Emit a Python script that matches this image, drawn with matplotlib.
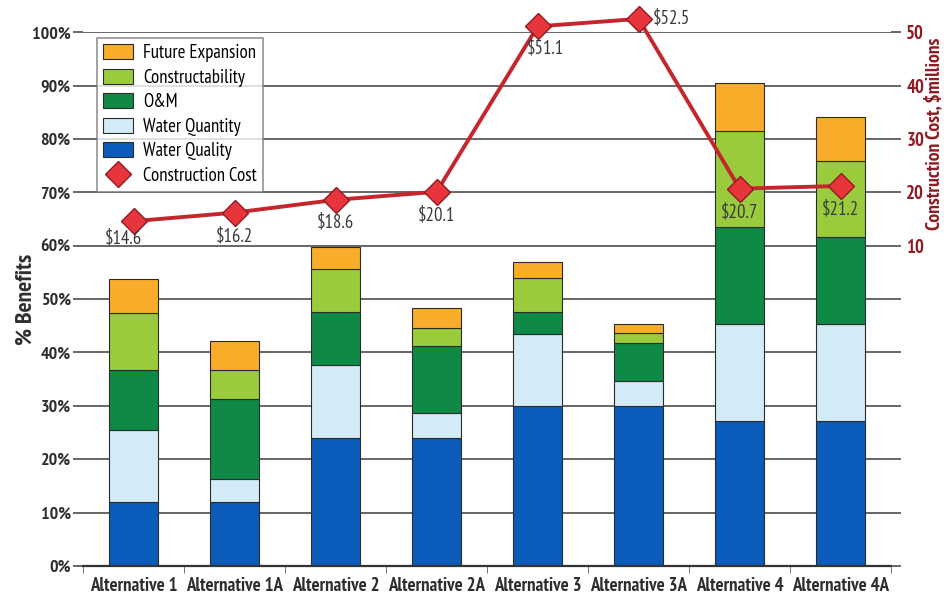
import matplotlib
matplotlib.use("Agg")
import matplotlib.pyplot as plt
from matplotlib.patches import Patch
from matplotlib.lines import Line2D
import numpy as np

plt.rcParams["font.family"] = ["PT Sans Narrow", "DejaVu Sans"]

# alternatives and % benefit by component
alternatives = ["Alternative 1", "Alternative 1A", "Alternative 2", "Alternative 2A",
                "Alternative 3", "Alternative 3A", "Alternative 4", "Alternative 4A"]
water_quality = [12.0, 12.0, 24.0, 24.0, 30.0, 30.0, 27.2, 27.2]
water_quantity = [13.5, 4.2, 13.6, 4.6, 13.5, 4.6, 18.1, 18.1]
o_and_m = [11.2, 15.0, 9.9, 12.7, 4.1, 7.2, 18.2, 16.4]
constructability = [10.7, 5.5, 8.1, 3.3, 6.3, 1.8, 18.0, 14.1]
future_expansion = [6.3, 5.5, 4.2, 3.8, 3.1, 1.7, 8.9, 8.3]

# construction cost, $ millions
cost = [14.6, 16.2, 18.6, 20.1, 51.1, 52.5, 20.7, 21.2]

series = [
    ("Water Quality", water_quality, "#0b5cba"),
    ("Water Quantity", water_quantity, "#d3ebf7"),
    ("O&M", o_and_m, "#0e8a46"),
    ("Constructability", constructability, "#9acb3c"),
    ("Future Expansion", future_expansion, "#f8ac2a"),
]

grid_col = "#5a5a5a"
red_dark = "#8e1c22"

fig = plt.figure(figsize=(9.45, 5.97), dpi=100)
ax = fig.add_axes([0.088, 0.052, 0.855, 0.894])
x = np.arange(len(alternatives))

ax.set_axisbelow(True)
ax.yaxis.grid(True, color=grid_col, linewidth=1.3)
bottom = np.zeros(len(x))
for name, vals, col in series:
    ax.bar(x, vals, width=0.48, bottom=bottom, color=col,
           edgecolor="#2b2b2b", linewidth=0.8, label=name)
    bottom += np.array(vals)

ax.set_xlim(-0.5, 7.5)
ax.set_ylim(0, 100)
ax.set_yticks(np.arange(0, 101, 10))
ax.set_yticklabels([f"{v}%" for v in range(0, 101, 10)])
ax.set_xticks(x)
ax.set_xticklabels(alternatives)
ax.set_xticks(np.arange(-0.5, 7.6, 1), minor=True)
ax.tick_params(axis="x", which="major", length=0, pad=8)
ax.tick_params(axis="x", which="minor", length=5, color=grid_col, direction="out")
ax.tick_params(axis="y", length=7, color=grid_col, width=1.3, pad=2)
for lab in ax.get_xticklabels():
    lab.set_fontweight("bold")
    lab.set_fontsize(13.5)
    lab.set_color("#2e2e2e")
for lab in ax.get_yticklabels():
    lab.set_fontweight("bold")
    lab.set_fontsize(13)
    lab.set_color("#2e2e2e")
for s in ["left", "right", "top"]:
    ax.spines[s].set_visible(False)
ax.spines["bottom"].set_color("#333333")
ax.spines["bottom"].set_linewidth(1.6)
ax.set_ylabel("% Benefits", fontsize=17, fontweight="bold", color="#2e2e2e")
ax.yaxis.set_label_coords(-0.058, 0.5)

# construction cost on the right-hand axis
ax2 = ax.twinx()
ax2.set_ylim(-50, 50)
ax2.set_yticks(np.arange(-50, 51, 10))
ax2.set_yticklabels([str(v) if v >= 10 else "" for v in range(-50, 51, 10)])
ax2.tick_params(axis="y", length=7, color=grid_col, width=1.3, labelcolor=red_dark,
                labelsize=13.5, pad=4)
for lab in ax2.get_yticklabels():
    lab.set_fontweight("bold")
for s in ax2.spines.values():
    s.set_visible(False)
ax2.set_ylabel("Construction Cost, $millions", fontsize=14, fontweight="bold",
               color=red_dark)
ax2.yaxis.set_label_coords(1.041, 0.81)

ax2.plot(x, cost, color="#c4262c", linewidth=2.8, marker="D", markersize=13,
         markerfacecolor="#e8353c", markeredgecolor="#8e1c22", markeredgewidth=1.0,
         zorder=5, clip_on=False)

offsets = [(-10, -17, "center"), (0, -24, "center"), (0, -23, "center"), (0, -24, "center"),
           (8, -22, "center"), (14, 0, "left"), (0, -24, "center"), (0, -24, "center")]
for xi, c, (dx, dy, ha) in zip(x, cost, offsets):
    ax2.annotate(f"${c}", (xi, c), xytext=(dx, dy), textcoords="offset pixels",
                 ha=ha, va="center", fontsize=13.5, color="#3a3a3a", zorder=6,
                 annotation_clip=False)

handles = [Patch(facecolor=col, edgecolor="#2b2b2b", linewidth=0.8, label=name)
           for name, _, col in reversed(series)]
handles.append(Line2D([], [], linestyle="none", marker="D", markersize=13,
                      markerfacecolor="#e8353c", markeredgecolor="#8e1c22",
                      label="Construction Cost"))
leg = ax2.legend(handles=handles, loc="upper left", bbox_to_anchor=(0.017, 0.99),
                 borderaxespad=0, fontsize=13.5, frameon=True, fancybox=False,
                 borderpad=0.35, labelspacing=0.35, handlelength=1.6,
                 handleheight=0.85, handletextpad=0.5)
leg.get_frame().set_edgecolor("#777777")
leg.get_frame().set_linewidth(1.2)
leg.set_zorder(10)

fig.savefig("out.png", dpi=100)
